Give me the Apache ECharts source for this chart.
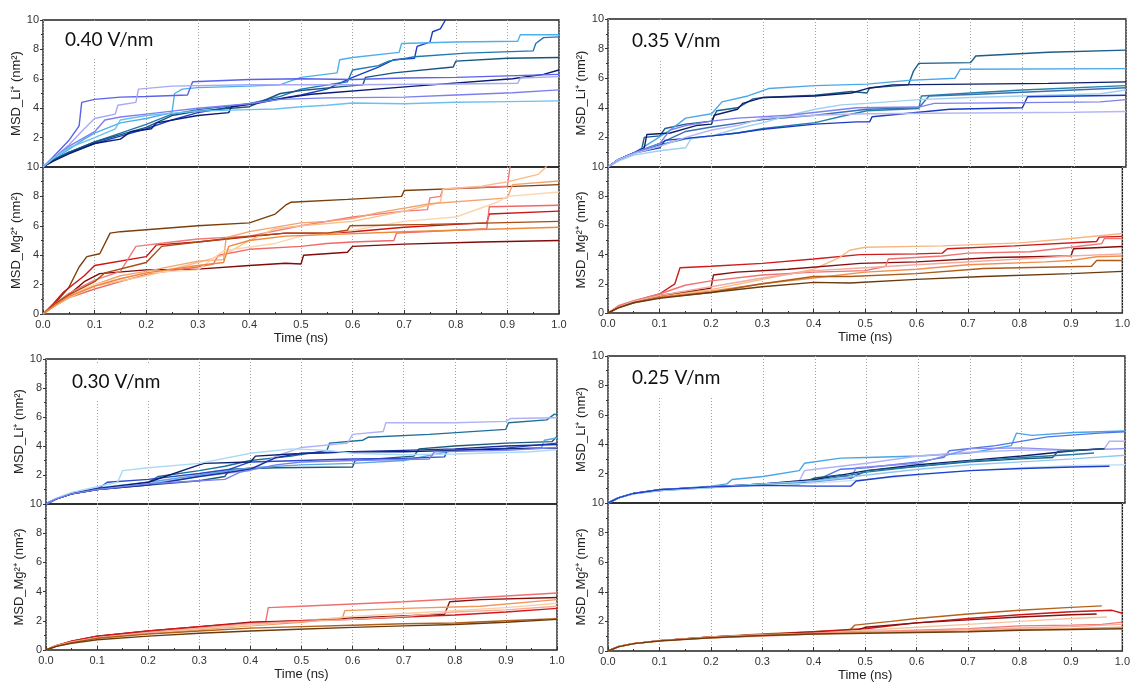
<!DOCTYPE html>
<html>
<head>
<meta charset="utf-8">
<title>MSD</title>
<script src="https://cdn.jsdelivr.net/npm/echarts@6/dist/echarts.min.js"></script>
<style>
    html, body { margin: 0; background: #fff; }
    #chart { width: 1133px; height: 684px; }
</style>
</head>
<body>
<div id="chart"></div>
<script>
// field strength of each panel
var fields = ['0.40 V/nm', '0.35 V/nm', '0.30 V/nm', '0.25 V/nm'];
var yNames = ['MSD_Li\u207A (nm\u00B2)', 'MSD_Mg\u00B2\u207A (nm\u00B2)'];

// ---- 0.40 V/nm, Li+ : each line is a list of [time ns, MSD nm2]
var li40 = [
    [[0,0],[0.02,0.5],[0.05,1.0],[0.1,1.6],[0.15,2.1],[0.2,2.6],[0.25,3.2],[0.3,3.7],[0.35,4.0],[0.4,4.3],[0.45,4.6],[0.5,4.9],[0.55,5.3],[0.6,6.1],[0.65,6.8],[0.68,7.3],[0.72,7.4],[0.725,8.2],[0.75,8.5],[0.755,9.2],[0.77,9.4],[0.78,10],[0.785,10.4]],
    [[0,0],[0.02,0.5],[0.05,1.2],[0.08,1.9],[0.1,2.3],[0.15,3.0],[0.2,3.3],[0.25,3.7],[0.255,5.0],[0.27,5.3],[0.3,5.4],[0.4,5.5],[0.46,5.6],[0.5,6.1],[0.57,6.4],[0.575,7.3],[0.6,7.45],[0.69,7.8],[0.695,8.4],[0.8,8.5],[0.92,8.55],[0.925,9.0],[1.0,9.0]],
    [[0,0],[0.02,0.5],[0.05,1.0],[0.1,1.7],[0.15,2.3],[0.2,2.9],[0.25,3.6],[0.3,3.9],[0.4,4.3],[0.46,4.8],[0.5,5.3],[0.59,5.8],[0.6,6.6],[0.65,6.9],[0.67,7.2],[0.72,7.5],[0.82,7.75],[0.95,7.9],[0.955,8.4],[0.97,8.8],[1.0,8.85]],
    [[0,0],[0.02,0.45],[0.05,1.0],[0.1,1.7],[0.15,2.2],[0.2,2.7],[0.25,3.5],[0.3,3.8],[0.4,4.1],[0.46,5.0],[0.5,5.2],[0.59,5.5],[0.62,5.6],[0.625,6.1],[0.68,6.4],[0.795,6.8],[0.8,7.2],[0.9,7.4],[1.0,7.45]],
    [[0,0],[0.02,0.4],[0.05,0.9],[0.1,1.6],[0.15,1.9],[0.17,2.4],[0.21,2.6],[0.22,3.0],[0.3,3.5],[0.36,3.7],[0.365,4.1],[0.41,4.3],[0.47,4.7],[0.52,4.95],[0.72,5.5],[0.91,6.0],[0.97,6.3],[1.0,6.6]],
    [[0,0],[0.02,0.7],[0.05,1.8],[0.07,2.8],[0.075,4.4],[0.1,4.6],[0.15,4.75],[0.2,4.8],[0.28,4.9],[0.29,5.8],[0.4,5.95],[0.5,6.0],[0.6,5.95],[0.7,6.05],[0.8,6.1],[0.9,6.2],[1.0,6.3]],
    [[0,0],[0.02,0.6],[0.05,1.5],[0.08,2.6],[0.1,3.3],[0.14,3.6],[0.145,4.2],[0.18,4.4],[0.185,5.3],[0.25,5.5],[0.4,5.6],[0.6,5.6],[0.8,5.65],[0.92,5.7],[0.925,6.05],[1.0,6.15]],
    [[0,0],[0.02,0.6],[0.05,1.4],[0.1,2.4],[0.12,3.2],[0.15,3.4],[0.2,3.6],[0.25,3.8],[0.3,4.0],[0.4,4.3],[0.46,4.6],[0.55,4.7],[0.7,4.75],[0.8,4.9],[0.91,5.05],[1.0,5.25]],
    [[0,0],[0.02,0.6],[0.05,1.3],[0.1,2.0],[0.14,2.6],[0.15,3.2],[0.2,3.5],[0.3,3.8],[0.4,3.9],[0.45,3.95],[0.5,4.1],[0.55,4.2],[0.6,4.35],[0.7,4.3],[0.8,4.4],[0.9,4.45],[1.0,4.5]]
];
var li40Colors = ['#1a3cc8', '#4db0ec', '#1f78b4', '#17557d', '#0b1a75', '#5a62e8', '#a8a8f4', '#7d7ff0', '#6cc0f0'];

// ---- 0.40 V/nm, Mg2+
var mg40 = [
    [[0,0],[0.02,0.6],[0.05,1.8],[0.07,3.2],[0.085,3.9],[0.11,4.1],[0.13,5.5],[0.15,5.6],[0.3,6.0],[0.4,6.2],[0.45,6.8],[0.47,7.4],[0.48,7.6],[0.59,7.8],[0.695,8.0],[0.7,8.4],[0.85,8.6],[1.0,8.8]],
    [[0,0],[0.02,0.5],[0.05,1.3],[0.08,2.2],[0.11,2.75],[0.2,3.0],[0.3,3.05],[0.4,3.3],[0.47,3.45],[0.5,3.4],[0.505,4.0],[0.59,4.2],[0.6,4.6],[0.7,4.75],[0.85,4.9],[1.0,5.0]],
    [[0,0],[0.02,0.7],[0.04,1.5],[0.08,2.6],[0.1,3.3],[0.2,3.9],[0.22,4.7],[0.3,4.9],[0.385,5.2],[0.47,5.5],[0.55,5.5],[0.6,5.6],[0.7,5.9],[0.8,6.1],[0.86,6.2],[0.865,6.8],[1.0,7.0]],
    [[0,0],[0.02,0.5],[0.05,1.1],[0.1,1.7],[0.15,2.2],[0.2,2.7],[0.3,3.2],[0.33,3.4],[0.34,4.0],[0.4,4.4],[0.5,4.6],[0.55,4.8],[0.6,4.9],[0.68,5.0],[0.685,5.5],[0.86,5.8],[0.865,7.3],[1.0,7.4]],
    [[0,0],[0.02,0.6],[0.05,1.4],[0.1,2.3],[0.15,2.9],[0.18,4.6],[0.25,4.9],[0.3,5.1],[0.4,5.3],[0.5,6.0],[0.6,6.6],[0.7,7.0],[0.745,7.1],[0.75,7.9],[0.77,8.0],[0.775,8.5],[0.9,8.7],[0.905,10],[0.91,10.4]],
    [[0,0],[0.02,0.5],[0.05,1.1],[0.1,1.9],[0.2,2.6],[0.3,3.5],[0.35,4.0],[0.4,5.0],[0.45,5.8],[0.5,6.0],[0.6,6.3],[0.7,7.0],[0.77,7.6],[0.775,8.5],[0.85,8.7],[0.9,9.0],[0.96,9.5],[0.975,10],[0.98,10.4]],
    [[0,0],[0.02,0.5],[0.05,1.2],[0.1,2.0],[0.15,2.6],[0.2,2.9],[0.3,3.6],[0.35,3.7],[0.355,5.2],[0.4,5.6],[0.5,6.2],[0.55,6.3],[0.6,6.5],[0.65,6.9],[0.75,7.5],[0.9,7.9],[0.91,8.8],[1.0,9.05]],
    [[0,0],[0.02,0.5],[0.05,1.2],[0.1,2.0],[0.2,2.8],[0.3,3.0],[0.35,4.3],[0.45,4.8],[0.5,5.3],[0.6,5.7],[0.7,6.3],[0.8,6.6],[0.88,7.6],[0.9,8.0],[1.0,8.3]],
    [[0,0],[0.02,0.6],[0.05,1.3],[0.1,2.2],[0.12,2.8],[0.2,3.5],[0.23,4.6],[0.3,4.9],[0.4,5.3],[0.47,5.5],[0.55,5.5],[0.59,5.7],[0.595,6.0],[0.75,6.1],[1.0,6.3]],
    [[0,0],[0.02,0.5],[0.05,1.2],[0.1,1.9],[0.15,2.4],[0.2,2.8],[0.3,3.3],[0.35,3.5],[0.36,4.6],[0.4,5.0],[0.47,5.3],[0.55,5.4],[0.7,5.6],[0.85,5.75],[1.0,5.9]]
];
var mg40Colors = ['#7b3f0c', '#7f0b0b', '#cc1414', '#f06868', '#f27a7a', '#f8bf8e', '#f5a36e', '#fbd5ad', '#a84a12', '#ee8838'];

// ---- 0.35 V/nm, Li+
var li35 = [
    [[0,0],[0.02,0.5],[0.05,0.9],[0.065,1.2],[0.07,2.0],[0.1,2.1],[0.11,2.6],[0.15,2.9],[0.2,3.1],[0.21,3.8],[0.25,4.0],[0.28,4.6],[0.3,4.7],[0.4,4.85],[0.47,5.1],[0.5,5.0],[0.505,5.35],[0.58,5.55],[0.59,6.5],[0.6,7.0],[0.7,7.05],[0.71,7.5],[0.85,7.75],[1.0,7.9]],
    [[0,0],[0.02,0.5],[0.05,0.95],[0.08,1.6],[0.12,2.5],[0.15,3.3],[0.2,3.6],[0.22,4.4],[0.27,4.8],[0.31,5.3],[0.4,5.5],[0.5,5.6],[0.58,5.85],[0.67,6.0],[0.68,6.6],[1.0,6.65]],
    [[0,0],[0.02,0.5],[0.05,0.95],[0.07,1.3],[0.075,2.2],[0.12,2.3],[0.17,2.8],[0.2,2.9],[0.205,3.5],[0.25,3.9],[0.26,4.3],[0.3,4.7],[0.4,4.8],[0.47,5.0],[0.5,5.3],[0.55,5.55],[0.7,5.6],[0.85,5.65],[1.0,5.75]],
    [[0,0],[0.02,0.5],[0.05,0.95],[0.1,1.5],[0.15,1.9],[0.2,2.1],[0.25,2.3],[0.3,2.6],[0.4,3.0],[0.46,3.5],[0.5,3.8],[0.6,3.95],[0.605,4.8],[0.7,5.0],[0.8,5.2],[1.0,5.5]],
    [[0,0],[0.02,0.5],[0.05,0.95],[0.1,1.6],[0.15,2.4],[0.2,2.7],[0.3,3.2],[0.4,3.5],[0.5,3.9],[0.6,4.0],[0.62,4.8],[0.7,4.9],[0.8,5.05],[1.0,5.35]],
    [[0,0],[0.02,0.4],[0.05,0.8],[0.1,1.1],[0.15,1.3],[0.16,1.9],[0.2,2.1],[0.25,2.6],[0.3,3.0],[0.35,3.5],[0.4,3.9],[0.45,4.2],[0.5,4.3],[0.6,4.55],[0.7,4.7],[0.8,4.8],[0.9,4.9],[0.95,4.95],[1.0,5.2]],
    [[0,0],[0.02,0.5],[0.05,0.95],[0.1,1.3],[0.11,1.8],[0.2,2.1],[0.25,2.3],[0.3,2.55],[0.4,2.9],[0.48,3.05],[0.505,3.05],[0.51,3.4],[0.66,3.9],[0.8,4.0],[0.81,4.75],[1.0,4.85]],
    [[0,0],[0.02,0.5],[0.05,0.95],[0.1,1.6],[0.12,2.5],[0.15,2.8],[0.2,3.1],[0.25,3.3],[0.35,3.5],[0.48,4.0],[0.6,4.05],[0.63,4.3],[0.8,4.35],[0.95,4.4],[1.0,4.55]],
    [[0,0],[0.02,0.5],[0.05,0.9],[0.1,1.4],[0.15,2.0],[0.2,2.5],[0.25,2.8],[0.3,3.3],[0.4,3.5],[0.5,3.6],[0.7,3.65],[0.9,3.7],[1.0,3.75]]
];
var li35Colors = ['#1a5d88', '#4aa8e8', '#0f1f6a', '#2481ab', '#3a6fb0', '#9fd0f0', '#1c3cc0', '#7c80ee', '#b5b7f5'];

// ---- 0.35 V/nm, Mg2+
var mg35 = [
    [[0,0],[0.02,0.4],[0.05,0.8],[0.1,1.3],[0.13,2.0],[0.14,3.1],[0.2,3.2],[0.3,3.4],[0.4,3.7],[0.49,4.0],[0.6,4.05],[0.65,4.1],[0.66,4.4],[0.79,4.6],[0.95,4.9],[0.955,5.2],[1.0,5.25]],
    [[0,0],[0.02,0.4],[0.05,0.8],[0.1,1.2],[0.2,1.6],[0.3,2.3],[0.4,3.0],[0.45,3.8],[0.47,4.3],[0.5,4.5],[0.65,4.6],[0.8,4.8],[0.9,5.1],[1.0,5.45]],
    [[0,0],[0.02,0.4],[0.05,0.8],[0.1,1.1],[0.2,1.5],[0.3,2.0],[0.4,2.4],[0.5,2.8],[0.6,3.0],[0.7,3.3],[0.85,3.5],[0.9,3.6],[0.95,3.85],[1.0,3.9]],
    [[0,0],[0.02,0.4],[0.05,0.8],[0.1,1.2],[0.2,1.7],[0.205,2.6],[0.25,2.8],[0.35,3.0],[0.49,3.4],[0.6,3.5],[0.75,3.8],[0.9,3.9],[0.905,4.4],[1.0,4.55]],
    [[0,0],[0.02,0.5],[0.05,0.85],[0.1,1.3],[0.15,1.9],[0.2,2.2],[0.3,2.6],[0.4,2.8],[0.5,2.9],[0.54,3.2],[0.545,3.7],[0.65,3.9],[0.7,4.1],[0.82,4.2],[0.9,4.5],[0.96,4.75],[0.965,5.1],[1.0,5.1]],
    [[0,0],[0.02,0.4],[0.05,0.8],[0.1,1.2],[0.2,1.8],[0.3,2.4],[0.4,2.9],[0.5,3.1],[0.6,3.3],[0.8,3.7],[0.9,3.9],[1.0,4.05]],
    [[0,0],[0.02,0.35],[0.05,0.7],[0.1,1.05],[0.2,1.4],[0.3,2.0],[0.4,2.5],[0.47,2.5],[0.6,2.7],[0.73,3.05],[0.94,3.2],[0.95,3.6],[1.0,3.6]],
    [[0,0],[0.02,0.35],[0.05,0.7],[0.1,1.0],[0.2,1.4],[0.3,1.8],[0.4,2.1],[0.47,2.05],[0.6,2.3],[0.73,2.5],[0.9,2.7],[1.0,2.85]]
];
var mg35Colors = ['#cf1b1b', '#f6b882', '#f09050', '#8a0d0d', '#ef7373', '#f6aaa0', '#ad5a18', '#6b3a0c'];

// ---- 0.30 V/nm, Li+
var li30 = [
    [[0,0],[0.02,0.35],[0.05,0.7],[0.1,1.0],[0.15,1.2],[0.2,1.5],[0.22,1.9],[0.3,2.3],[0.35,2.6],[0.4,3.0],[0.48,3.3],[0.55,3.7],[0.555,4.2],[0.62,4.4],[0.63,4.6],[0.75,4.8],[0.9,5.15],[0.905,5.6],[0.98,5.8],[0.995,6.2],[1.0,6.15]],
    [[0,0],[0.02,0.35],[0.05,0.7],[0.1,1.0],[0.2,1.4],[0.3,1.9],[0.4,2.3],[0.45,3.3],[0.5,3.9],[0.59,4.2],[0.6,4.8],[0.66,5.0],[0.665,5.6],[0.8,5.6],[0.9,5.7],[0.91,5.9],[1.0,5.95]],
    [[0,0],[0.02,0.35],[0.05,0.7],[0.1,1.0],[0.2,1.3],[0.3,1.6],[0.35,1.9],[0.36,2.4],[0.45,2.5],[0.6,2.55],[0.605,3.0],[0.72,3.3],[0.73,3.8],[0.8,4.0],[0.9,4.2],[0.99,4.3],[1.0,4.65]],
    [[0,0],[0.02,0.35],[0.05,0.75],[0.1,1.1],[0.2,1.5],[0.3,2.0],[0.4,2.5],[0.5,2.7],[0.6,2.8],[0.7,3.0],[0.8,3.7],[0.9,3.8],[0.97,3.9],[0.975,4.4],[1.0,4.55]],
    [[0,0],[0.02,0.35],[0.05,0.7],[0.1,1.0],[0.12,1.5],[0.2,1.7],[0.3,2.1],[0.36,2.4],[0.4,2.9],[0.5,3.0],[0.6,3.1],[0.7,3.15],[0.78,3.25],[0.785,3.7],[0.9,3.85],[1.0,4.2]],
    [[0,0],[0.02,0.35],[0.05,0.7],[0.1,1.05],[0.2,1.5],[0.3,2.7],[0.31,2.8],[0.4,2.9],[0.41,3.3],[0.48,3.45],[0.6,3.6],[0.7,3.6],[0.8,3.7],[0.9,3.8],[1.0,3.85]],
    [[0,0],[0.02,0.35],[0.05,0.7],[0.1,1.0],[0.2,1.3],[0.25,1.6],[0.3,1.9],[0.4,2.4],[0.45,3.2],[0.5,3.5],[0.6,3.6],[0.7,3.7],[0.8,3.8],[0.9,4.0],[1.0,4.1]],
    [[0,0],[0.02,0.4],[0.05,0.8],[0.1,1.2],[0.14,1.5],[0.15,2.3],[0.2,2.5],[0.3,2.8],[0.4,3.5],[0.48,3.8],[0.55,3.7],[0.6,3.5],[0.7,3.4],[0.8,3.45],[0.95,3.6],[1.0,3.75]],
    [[0,0],[0.02,0.35],[0.05,0.7],[0.1,1.0],[0.2,1.4],[0.25,1.5],[0.35,1.7],[0.38,2.2],[0.45,2.7],[0.5,2.9],[0.6,3.0],[0.75,3.1],[0.76,3.6],[0.9,3.7],[1.0,3.9]]
];
var li30Colors = ['#1f6e9a', '#b0b2f5', '#1d5a78', '#5aa8e0', '#2a48c8', '#0c1e70', '#1a2fa0', '#a9dbf5', '#7a7ff0'];

// ---- 0.30 V/nm, Mg2+
var mg30 = [
    [[0,0],[0.02,0.3],[0.05,0.55],[0.1,0.9],[0.2,1.25],[0.3,1.55],[0.4,1.85],[0.43,1.95],[0.435,2.9],[0.5,3.0],[0.7,3.3],[0.85,3.6],[1.0,3.9]],
    [[0,0],[0.02,0.3],[0.05,0.6],[0.1,0.95],[0.2,1.3],[0.3,1.6],[0.4,1.9],[0.5,2.0],[0.6,2.2],[0.78,2.45],[0.79,3.3],[0.85,3.45],[1.0,3.6]],
    [[0,0],[0.02,0.3],[0.05,0.55],[0.1,0.85],[0.2,1.15],[0.3,1.4],[0.4,1.65],[0.5,1.9],[0.58,2.2],[0.585,2.7],[0.7,2.85],[0.85,3.0],[1.0,3.45]],
    [[0,0],[0.02,0.3],[0.05,0.55],[0.1,0.85],[0.2,1.15],[0.3,1.45],[0.4,1.7],[0.5,2.0],[0.6,2.3],[0.7,2.5],[0.8,2.7],[0.9,2.9],[1.0,3.2]],
    [[0,0],[0.02,0.3],[0.05,0.6],[0.1,0.95],[0.2,1.3],[0.3,1.6],[0.4,1.85],[0.5,2.0],[0.6,2.1],[0.7,2.25],[0.8,2.4],[0.9,2.6],[1.0,2.85]],
    [[0,0],[0.02,0.3],[0.05,0.55],[0.1,0.85],[0.2,1.2],[0.3,1.5],[0.4,1.8],[0.5,1.95],[0.6,2.1],[0.7,2.3],[0.8,2.6],[0.9,2.75],[1.0,3.0]],
    [[0,0],[0.02,0.25],[0.05,0.5],[0.1,0.8],[0.2,1.1],[0.3,1.3],[0.4,1.5],[0.5,1.6],[0.6,1.7],[0.7,1.8],[0.8,1.85],[0.9,2.0],[1.0,2.15]],
    [[0,0],[0.02,0.25],[0.05,0.45],[0.1,0.7],[0.2,0.95],[0.3,1.15],[0.4,1.3],[0.48,1.4],[0.6,1.55],[0.7,1.65],[0.8,1.75],[0.9,1.9],[1.0,2.1]]
];
var mg30Colors = ['#f07070', '#8b1010', '#f0975c', '#f8cfa8', '#d41818', '#f7ad9a', '#b0601a', '#6e3b0a'];

// ---- 0.25 V/nm, Li+
var li25 = [
    [[0,0],[0.02,0.35],[0.05,0.65],[0.1,0.9],[0.2,1.15],[0.23,1.3],[0.24,1.6],[0.3,1.8],[0.37,2.2],[0.38,2.7],[0.45,3.05],[0.5,3.1],[0.6,3.2],[0.7,3.4],[0.78,3.9],[0.79,4.75],[0.82,4.6],[0.9,4.8],[1.0,4.9]],
    [[0,0],[0.02,0.35],[0.05,0.65],[0.1,0.9],[0.2,1.1],[0.3,1.3],[0.4,1.5],[0.45,2.3],[0.5,2.4],[0.6,2.8],[0.65,3.1],[0.66,3.55],[0.75,3.9],[0.85,4.5],[0.95,4.75],[1.0,4.85]],
    [[0,0],[0.02,0.35],[0.05,0.65],[0.1,0.9],[0.2,1.1],[0.3,1.3],[0.37,1.5],[0.38,2.2],[0.4,2.3],[0.45,2.5],[0.5,2.7],[0.6,3.2],[0.7,3.45],[0.8,3.6],[0.9,3.6],[0.96,3.7],[0.97,4.2],[1.0,4.2]],
    [[0,0],[0.02,0.35],[0.05,0.65],[0.1,0.9],[0.2,1.1],[0.3,1.3],[0.4,1.45],[0.47,1.7],[0.48,2.4],[0.6,2.7],[0.7,3.7],[0.8,3.75],[0.9,3.6],[1.0,3.7]],
    [[0,0],[0.02,0.35],[0.05,0.65],[0.1,0.9],[0.2,1.1],[0.3,1.3],[0.4,1.6],[0.45,1.9],[0.5,2.2],[0.6,2.6],[0.7,2.9],[0.8,3.2],[0.9,3.55],[0.96,3.7]],
    [[0,0],[0.02,0.35],[0.05,0.65],[0.1,0.85],[0.2,1.1],[0.3,1.25],[0.37,1.3],[0.4,1.7],[0.45,1.9],[0.47,1.7],[0.5,2.2],[0.6,2.5],[0.7,2.8],[0.8,3.0],[0.86,3.1],[0.87,3.5],[0.96,3.7]],
    [[0,0],[0.02,0.35],[0.05,0.65],[0.1,0.85],[0.2,1.05],[0.3,1.25],[0.4,1.5],[0.5,2.1],[0.6,2.5],[0.7,2.85],[0.8,3.1],[0.9,3.3],[0.94,3.4]],
    [[0,0],[0.02,0.35],[0.05,0.65],[0.1,0.9],[0.2,1.1],[0.3,1.3],[0.4,1.5],[0.5,1.9],[0.6,2.3],[0.7,2.6],[0.8,2.8],[0.9,3.0],[1.0,3.25]],
    [[0,0],[0.02,0.35],[0.05,0.6],[0.1,0.85],[0.2,1.05],[0.3,1.2],[0.4,1.35],[0.5,1.6],[0.6,1.9],[0.7,2.2],[0.8,2.4],[0.9,2.55],[1.0,2.6]],
    [[0,0],[0.02,0.35],[0.05,0.65],[0.1,0.9],[0.2,1.1],[0.3,1.2],[0.4,1.15],[0.47,1.15],[0.48,1.5],[0.55,1.8],[0.6,1.95],[0.7,2.2],[0.8,2.35],[0.9,2.45],[0.97,2.5]]
];
var li25Colors = ['#49a6e6', '#4d78e6', '#b2b3f5', '#8a8cf0', '#0d2070', '#1a5878', '#2a7aa8', '#8ccaf0', '#c3e3f6', '#1f3fc8'];

// ---- 0.25 V/nm, Mg2+
var mg25 = [
    [[0,0],[0.02,0.3],[0.05,0.5],[0.1,0.7],[0.2,0.95],[0.3,1.15],[0.4,1.3],[0.47,1.4],[0.48,1.75],[0.55,2.0],[0.6,2.2],[0.7,2.5],[0.8,2.75],[0.9,2.95],[0.96,3.05]],
    [[0,0],[0.02,0.3],[0.05,0.5],[0.1,0.7],[0.2,0.95],[0.3,1.1],[0.4,1.3],[0.47,1.45],[0.5,1.5],[0.6,1.9],[0.7,2.2],[0.8,2.45],[0.9,2.65],[0.98,2.75],[1.0,2.55]],
    [[0,0],[0.02,0.3],[0.05,0.5],[0.1,0.7],[0.2,0.95],[0.3,1.1],[0.4,1.25],[0.48,1.35],[0.5,1.6],[0.6,1.9],[0.7,2.1],[0.8,2.3],[0.9,2.45],[0.95,2.5]],
    [[0,0],[0.02,0.3],[0.05,0.5],[0.1,0.7],[0.2,0.95],[0.3,1.1],[0.4,1.2],[0.5,1.4],[0.6,1.6],[0.7,1.8],[0.8,2.0],[0.9,2.2],[0.97,2.3]],
    [[0,0],[0.02,0.3],[0.05,0.5],[0.1,0.7],[0.2,0.9],[0.3,1.05],[0.4,1.2],[0.5,1.3],[0.6,1.4],[0.7,1.5],[0.8,1.7],[0.9,1.75],[0.96,1.8],[1.0,1.95]],
    [[0,0],[0.02,0.3],[0.05,0.5],[0.1,0.7],[0.2,0.9],[0.3,1.0],[0.4,1.15],[0.5,1.3],[0.6,1.35],[0.7,1.45],[0.8,1.55],[0.9,1.65],[1.0,1.8]],
    [[0,0],[0.02,0.3],[0.05,0.5],[0.1,0.7],[0.2,0.9],[0.3,1.05],[0.4,1.15],[0.5,1.25],[0.6,1.3],[0.7,1.35],[0.8,1.45],[0.9,1.5],[1.0,1.6]],
    [[0,0],[0.02,0.28],[0.05,0.5],[0.1,0.68],[0.2,0.9],[0.3,1.05],[0.4,1.15],[0.5,1.2],[0.6,1.25],[0.7,1.3],[0.8,1.4],[0.9,1.45],[1.0,1.5]]
];
var mg25Colors = ['#b3621c', '#d01616', '#8a0f0f', '#f6c49c', '#f07a72', '#f6aaa0', '#f09a5e', '#6e3b0a'];

var subData = [li40, mg40, li35, mg35, li30, mg30, li25, mg25];
var subColors = [li40Colors, mg40Colors, li35Colors, mg35Colors, li30Colors, mg30Colors, li25Colors, mg25Colors];

// panel frames in px: left, width, top, middle line, bottom
var frames = [
    [43, 516, 20, 167, 314],
    [608, 518, 19, 167, 313],
    [46, 511, 359, 504, 650],
    [608, 517, 356, 503, 651]
];
var titlePos = [[57, 21], [624, 22], [64, 363], [624, 359]];

var chart = echarts.init(document.getElementById('chart'));

var grids = [], xAxes = [], yAxes = [], series = [], titles = [];
var font = 'Liberation Sans, Arial, sans-serif';

for (var i = 0; i < 8; i++) {
    var p = Math.floor(i / 2), lower = i % 2 === 1, f = frames[p];
    var gTop = lower ? f[3] : f[2];
    var gH = lower ? f[4] - f[3] : f[3] - f[2];
    grids.push({
        left: f[0], width: f[1], top: gTop, height: gH,
        show: true, borderColor: '#222', borderWidth: 1.4
    });
    xAxes.push({
        type: 'value', gridIndex: i, min: 0, max: 1, interval: 0.1,
        axisLine: { show: false },
        axisTick: { show: lower, inside: true, length: 4, lineStyle: { color: '#333' } },
        minorTick: { show: lower, splitNumber: 2, length: 2, lineStyle: { color: '#333' } },
        axisLabel: {
            show: lower, color: '#333', fontSize: 11, fontFamily: font, margin: 5,
            formatter: function (v) { return v.toFixed(1); }
        },
        splitLine: { show: true, lineStyle: { type: [1, 2], color: '#a0a0a0', width: 1 } },
        name: lower ? 'Time (ns)' : '', nameLocation: 'middle', nameGap: 18,
        nameTextStyle: { color: '#222', fontSize: 13, fontFamily: font }
    });
    yAxes.push({
        type: 'value', gridIndex: i, min: 0, max: 10, interval: 2,
        axisLine: { show: false },
        axisTick: { show: true, inside: false, length: 3, lineStyle: { color: '#333' } },
        minorTick: { show: true, splitNumber: 2, length: 2, lineStyle: { color: '#333' } },
        axisLabel: { color: '#333', fontSize: 11, fontFamily: font, margin: 4, showMinLabel: lower },
        splitLine: { show: false },
        name: yNames[lower ? 1 : 0], nameLocation: 'middle', nameGap: 19,
        nameTextStyle: { color: '#222', fontSize: 13, fontFamily: font }
    });
    subData[i].forEach(function (line, k) {
        series.push({
            type: 'line', xAxisIndex: i, yAxisIndex: i,
            data: line, showSymbol: false, clip: true,
            lineStyle: { color: subColors[i][k], width: 1.4 },
            itemStyle: { color: subColors[i][k] }
        });
    });
}

fields.forEach(function (txt, p) {
    titles.push({
        text: txt, left: titlePos[p][0], top: titlePos[p][1],
        padding: [9, 12, 10, 8], backgroundColor: '#fff',
        textStyle: { fontSize: 19, fontWeight: 'normal', color: '#111', fontFamily: 'Lato, Open Sans, sans-serif' }
    });
});

chart.setOption({
    animation: false,
    backgroundColor: '#fff',
    title: titles,
    grid: grids,
    xAxis: xAxes,
    yAxis: yAxes,
    series: series
});
</script>
</body>
</html>
